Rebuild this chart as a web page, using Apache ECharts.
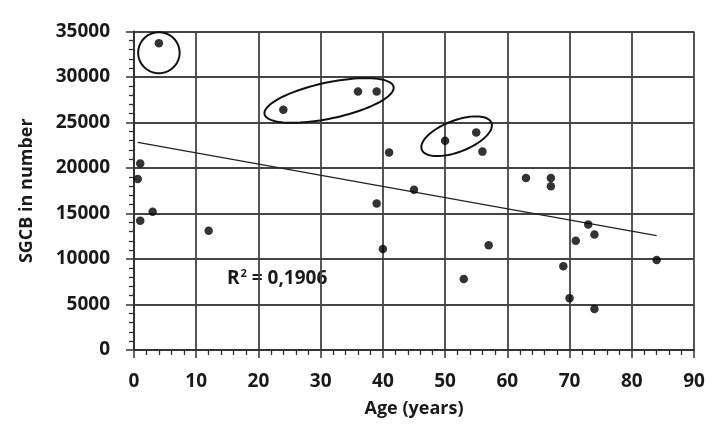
<!DOCTYPE html>
<html>
<head>
<meta charset="utf-8">
<script src="https://cdn.jsdelivr.net/npm/echarts@6/dist/echarts.min.js"></script>
<style>html,body{margin:0;padding:0;background:#fff}#c{width:721px;height:445px}</style>
</head>
<body>
<div id="c"></div>
<script>
// Age (years) of each sample
var ages = [4, 1, 0.6, 1, 3, 12, 24, 36, 39, 41, 45, 39, 40, 50, 55, 56, 63, 67, 67, 73, 74, 71, 57, 84, 69, 53, 70, 74];
// SGCB in number
var sgcb = [33700, 20500, 18800, 14200, 15200, 13100, 26400, 28400, 28400, 21700, 17600, 16100, 11100, 23000, 23900, 21800, 18900, 18900, 18000, 13800, 12700, 12000, 11500, 9900, 9200, 7800, 5700, 4500];
// Linear trend line end points (age, value)
var trendX = [0.6, 84];
var trendY = [22820, 12560];
var r2Text = '0,1906';
// Hand-drawn highlight ellipses: centre age, centre value, half-width (years), half-height (value), tilt (deg)
var ellCx = [4, 31.35, 51.85];
var ellCy = [32670, 27420, 23490];
var ellRx = [3.33, 10.6, 6.0];
var ellRy = [2250, 1980, 1725];
var ellAngle = [0, 12, 21];

var xTicks = {min: 0, max: 90, interval: 10};
var yTicks = {min: 0, max: 35000, interval: 5000};

var points = ages.map(function (a, i) { return [a, sgcb[i]]; });
var trend = trendX.map(function (a, i) { return [a, trendY[i]]; });
var ells = ellCx.map(function (c, i) { return [c, ellCy[i], ellRx[i], ellRy[i], ellAngle[i]]; });

var FONT = '"Open Sans", sans-serif';
var chart = echarts.init(document.getElementById('c'), null, {renderer: 'canvas'});
chart.setOption({
  animation: false,
  backgroundColor: '#fff',
  grid: {left: 134, right: 27, top: 31.5, bottom: 95},
  xAxis: {
    type: 'value', min: xTicks.min, max: xTicks.max, interval: xTicks.interval,
    name: 'Age (years)', nameLocation: 'middle', nameGap: 50,
    nameTextStyle: {fontFamily: FONT, fontWeight: 'bold', fontSize: 18, color: '#1a1a1a'},
    axisLine: {show: true, lineStyle: {color: '#333', width: 2}},
    axisTick: {show: true, length: 8, lineStyle: {color: '#333', width: 1.5}},
    minorTick: {show: true, splitNumber: 5, length: 5, lineStyle: {color: '#333', width: 1.3}},
    splitLine: {show: true, lineStyle: {color: '#444', width: 1.8}},
    axisLabel: {margin: 22, fontFamily: FONT, fontWeight: 'bold', fontSize: 19, color: '#1a1a1a'}
  },
  yAxis: {
    type: 'value', min: yTicks.min, max: yTicks.max, interval: yTicks.interval,
    name: 'SGCB in number', nameLocation: 'middle', nameGap: 98,
    nameTextStyle: {fontFamily: FONT, fontWeight: 'bold', fontSize: 18, color: '#1a1a1a'},
    axisLine: {show: true, lineStyle: {color: '#333', width: 2}},
    axisTick: {show: true, length: 8, lineStyle: {color: '#333', width: 1.5}},
    minorTick: {show: true, splitNumber: 5, length: 5, lineStyle: {color: '#333', width: 1.3}},
    splitLine: {show: true, lineStyle: {color: '#444', width: 1.8}},
    axisLabel: {margin: 24, fontFamily: FONT, fontWeight: 'bold', fontSize: 19, color: '#1a1a1a',
      formatter: function (v) { return String(v); }}
  },
  series: [
    {
      type: 'line', data: trend, symbol: 'none',
      lineStyle: {color: '#222', width: 1.3}, silent: true, z: 3
    },
    {
      type: 'scatter', data: points, symbol: 'circle', symbolSize: 8.5,
      itemStyle: {color: '#000'}, z: 5
    },
    {
      type: 'custom', data: ells, clip: false, z: 4, silent: true,
      encode: {x: 0, y: 1},
      renderItem: function (params, api) {
        var c = api.coord([api.value(0), api.value(1)]);
        var s = api.size([api.value(2), api.value(3)]);
        var th = api.value(4) * Math.PI / 180;
        var pts = [];
        for (var k = 0; k < 96; k++) {
          var t = k / 96 * Math.PI * 2;
          var ex = s[0] * Math.cos(t), ey = s[1] * Math.sin(t);
          pts.push([c[0] + ex * Math.cos(th) - ey * Math.sin(th), c[1] - (ex * Math.sin(th) + ey * Math.cos(th))]);
        }
        return {type: 'polygon', shape: {points: pts}, style: {fill: 'none', stroke: '#111', lineWidth: 2}};
      }
    }
  ],
  graphic: [{
    type: 'text', left: 227, top: 268,
    style: {
      text: '{r|R}{s|2}{r| = ' + r2Text + '}',
      rich: {
        r: {fontFamily: FONT, fontWeight: 'bold', fontSize: 19, fill: '#1a1a1a', lineHeight: 26},
        s: {fontFamily: FONT, fontWeight: 'bold', fontSize: 11, fill: '#1a1a1a', lineHeight: 26, padding: [0, 0, 10, 1]}
      }
    }
  }]
});
</script>
</body>
</html>
